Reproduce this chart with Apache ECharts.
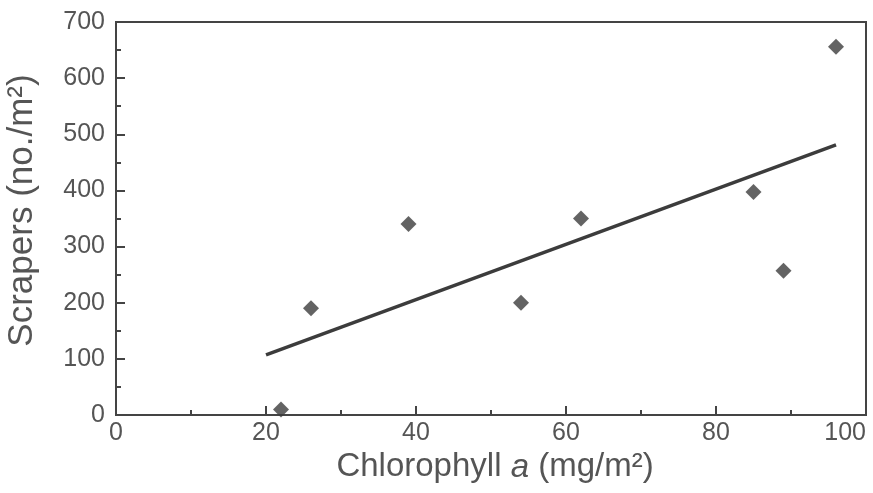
<!DOCTYPE html>
<html>
<head>
<meta charset="utf-8">
<style>
  html, body { margin: 0; padding: 0; background: #fff; }
  #chart { width: 873px; height: 493px; }
</style>
<script src="https://cdn.jsdelivr.net/npm/echarts@6/dist/echarts.min.js"></script>
</head>
<body>
<div id="chart"></div>
<script>
// Chlorophyll a (mg/m²) at each site
const chlorophyll = [22, 26, 39, 54, 62, 85, 89, 96];
// Scraper density (no./m²) at each site
const scrapers = [10, 190, 340, 200, 350, 397, 257, 656];
// Fitted regression line end points
const fitX = [20, 96];
const fitY = [107, 481];

const ink = '#444';
const textColor = '#555';
const font = "'Liberation Sans', Arial, Helvetica, sans-serif";

const chart = echarts.init(document.getElementById('chart'));
chart.setOption({
  animation: false,
  backgroundColor: '#fff',
  grid: {
    left: 116, right: 7, top: 22, bottom: 78,
    outerBoundsMode: 'none',
    containLabel: false,
    show: true, borderColor: ink, borderWidth: 2, backgroundColor: 'transparent'
  },
  xAxis: {
    type: 'value', min: 0, max: 100, interval: 20,
    name: '{n|Chlorophyll }{i|a}{n| (mg/m²)}',
    nameLocation: 'middle', nameGap: 34,
    nameTextStyle: {
      fontFamily: font, fontSize: 33, color: textColor, padding: [0, 0, 0, 8],
      rich: {
        n: { fontFamily: font, fontSize: 33, color: textColor },
        i: { fontFamily: font, fontSize: 33, color: textColor, fontStyle: 'italic' }
      }
    },
    axisLine: { show: true, lineStyle: { color: ink, width: 2 } },
    axisTick: { show: true, inside: true, length: 9, lineStyle: { color: ink, width: 2 } },
    minorTick: { show: true, splitNumber: 2, length: 5, lineStyle: { color: ink, width: 2 } },
    splitLine: { show: false },
    axisLabel: { fontFamily: font, fontSize: 25, color: textColor, margin: 6, alignMaxLabel: 'right' }
  },
  yAxis: {
    type: 'value', min: 0, max: 700, interval: 100,
    name: 'Scrapers (no./m²)',
    nameLocation: 'middle', nameGap: 76, nameRotate: 90,
    nameTextStyle: { fontFamily: font, fontSize: 35, color: textColor, padding: [0, 0, 0, 16] },
    axisLine: { show: true, lineStyle: { color: ink, width: 2 } },
    axisTick: { show: true, inside: true, length: 9, lineStyle: { color: ink, width: 2 } },
    minorTick: { show: true, splitNumber: 2, length: 5, lineStyle: { color: ink, width: 2 } },
    splitLine: { show: false },
    axisLabel: { fontFamily: font, fontSize: 25, color: textColor, margin: 11 }
  },
  series: [
    {
      type: 'line',
      data: fitX.map((x, i) => [x, fitY[i]]),
      showSymbol: false,
      lineStyle: { color: '#3c3c3c', width: 3.5 },
      z: 2
    },
    {
      type: 'scatter',
      data: chlorophyll.map((x, i) => [x, scrapers[i]]),
      symbol: 'diamond',
      symbolSize: 16,
      itemStyle: { color: '#3c3c3c' },
      z: 3
    }
  ]
});
</script>
</body>
</html>
